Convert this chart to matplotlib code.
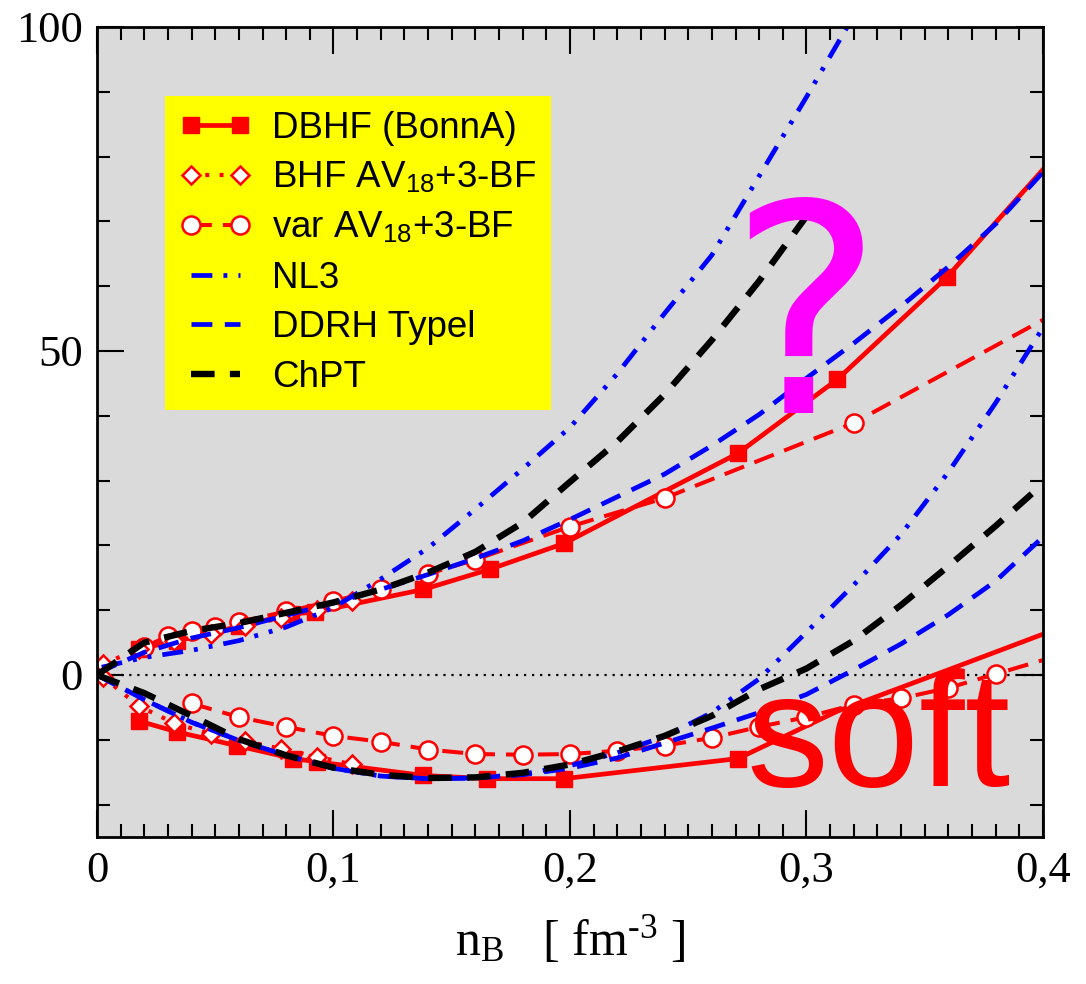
import matplotlib
matplotlib.use('Agg')
import matplotlib.pyplot as plt
from matplotlib.ticker import MultipleLocator, FixedLocator, FixedFormatter

plt.rcParams['lines.scale_dashes'] = False
plt.rcParams['font.family'] = ['Liberation Serif', 'DejaVu Serif']
plt.rcParams['mathtext.fontset'] = 'custom'
plt.rcParams['mathtext.rm'] = 'Liberation Serif'
plt.rcParams['mathtext.it'] = 'Liberation Serif:italic'

# ---------------- data (E/A in MeV vs n_B in fm^-3) ----------------
# DBHF (Bonn A): neutron matter (upper) and symmetric matter (lower)
dbhf_nm_n = [0.0177, 0.034, 0.060, 0.082, 0.092, 0.138, 0.166, 0.1975, 0.271, 0.313, 0.3594, 0.40]
dbhf_nm_e = [4.0, 5.3, 7.5, 9.4, 9.7, 13.2, 16.3, 20.3, 34.2, 45.6, 61.4, 78.0]
dbhf_nm_mark = list(range(11))
dbhf_sm_n = [0.0177, 0.034, 0.059, 0.083, 0.093, 0.138, 0.165, 0.1975, 0.271, 0.313, 0.36, 0.40]
dbhf_sm_e = [-7.1, -8.8, -10.9, -12.9, -13.4, -15.5, -16.0, -16.0, -12.9, -5.6, 0.8, 6.3]
dbhf_sm_mark = list(range(9))

# BHF AV18 + 3-BF
bhf_n = [0.0025, 0.0177, 0.0325, 0.048, 0.0626, 0.078, 0.093, 0.108]
bhf_nm_e = [1.7, 4.0, 5.2, 6.3, 7.6, 8.8, 10.0, 11.4]
bhf_sm_e = [-0.3, -4.8, -7.4, -9.1, -10.2, -11.4, -12.6, -13.8]

# variational AV18 + 3-BF
var_nm_n = [0.02, 0.03, 0.04, 0.05, 0.06, 0.08, 0.10, 0.12, 0.14, 0.16, 0.20, 0.24, 0.32, 0.40]
var_nm_e = [4.3, 6.0, 6.8, 7.4, 8.2, 9.8, 11.4, 13.2, 15.6, 17.8, 22.9, 27.3, 38.9, 54.8]
var_nm_mark = list(range(13))
var_sm_n = [0.04, 0.06, 0.08, 0.10, 0.12, 0.14, 0.16, 0.18, 0.20, 0.22,
            0.24, 0.26, 0.28, 0.30, 0.32, 0.34, 0.36, 0.38, 0.40]
var_sm_e = [-4.4, -6.5, -8.0, -9.4, -10.3, -11.5, -12.2, -12.3, -12.2, -11.7,
            -10.9, -9.7, -8.0, -6.5, -4.6, -3.6, -2.0, 0.15, 2.3]
var_sm_mark = list(range(18))

# common density grid for the continuous curves
grid = [0.0, 0.02, 0.04, 0.06, 0.08, 0.10, 0.12, 0.14, 0.16, 0.18, 0.20,
        0.22, 0.24, 0.26, 0.28, 0.30, 0.32, 0.34, 0.36, 0.38, 0.40]

# NL3
nl3_nm_n = [0.002, 0.02, 0.04, 0.06, 0.08, 0.10, 0.12, 0.14, 0.16, 0.18, 0.20,
            0.22, 0.24, 0.26, 0.28, 0.30, 0.318]
nl3_nm_e = [1.2, 2.7, 3.8, 5.3, 7.4, 10.4, 14.8, 19.6, 25.6, 31.8, 38.2,
            46.5, 55.8, 64.8, 77.0, 89.2, 100.5]
nl3_sm_e = [0.0, -3.8, -7.3, -10.1, -12.4, -14.4, -15.6, -16.0, -15.9, -15.3, -14.0,
            -12.0, -9.5, -5.8, -0.6, 6.6, 13.9, 21.7, 31.3, 42.0, 53.6]

# DDRH (Typel)
ddrh_nm_e = [0.3, 3.5, 5.7, 7.3, 9.2, 11.1, 13.2, 15.5, 18.0, 20.7, 24.0,
             27.5, 31.0, 35.4, 40.2, 45.8, 51.2, 56.9, 63.0, 69.6, 77.6]
ddrh_sm_e = [0.0, -3.8, -7.3, -10.1, -12.4, -14.4, -15.6, -16.0, -15.9, -15.4, -14.4,
             -12.8, -10.5, -8.2, -5.8, -3.0, 0.8, 4.8, 9.3, 14.5, 21.3]

# ChPT
chpt_nm_n = [0.0, 0.02, 0.04, 0.06, 0.08, 0.10, 0.12, 0.14, 0.16, 0.18, 0.20,
             0.22, 0.24, 0.26, 0.28, 0.30]
chpt_nm_e = [0.0, 5.0, 6.8, 8.0, 9.6, 11.2, 13.2, 15.8, 19.0, 23.5, 29.8,
             36.0, 43.3, 51.7, 60.8, 70.8]
chpt_sm_e = [0.0, -2.8, -6.3, -9.9, -12.4, -14.3, -15.4, -15.9, -15.8, -15.1, -13.8,
             -11.8, -9.4, -6.3, -2.2, 1.0, 5.3, 10.8, 16.8, 23.0, 29.5]

xticks = [0.0, 0.1, 0.2, 0.3, 0.4]
xticklabels = ['0', '0,1', '0,2', '0,3', '0,4']
yticks = [0, 50, 100]
yticklabels = ['0', '50', '100']

legend_labels = ['DBHF (BonnA)', 'BHF AV$_{\\mathregular{18}}$+3-BF',
                 'var AV$_{\\mathregular{18}}$+3-BF', 'NL3', 'DDRH Typel', 'ChPT']

# ---------------- figure ----------------
fig = plt.figure(figsize=(10.86, 9.84), dpi=100)
ax = fig.add_axes([0.0893, 0.1494, 0.8711, 0.8232])
ax.set_facecolor('#dadada')
ax.set_xlim(0, 0.4)
ax.set_ylim(-25, 100)

RED = '#ff0000'
BLUE = '#0000ff'

ax.plot([0, 0.4], [0, 0], color='black', lw=1.6, ls=(0, (1.6, 4.2)), zorder=1)

sq = dict(color=RED, lw=3.4, marker='s', ms=12, mfc=RED, mec=RED)
h_dbhf, = ax.plot(dbhf_nm_n, dbhf_nm_e, markevery=dbhf_nm_mark, zorder=3, **sq)
ax.plot(dbhf_sm_n, dbhf_sm_e, markevery=dbhf_sm_mark, zorder=3, **sq)

vr = dict(color=RED, lw=2.9, ls=(0, (15, 8)), marker='o', ms=13, mfc='white', mec=RED, mew=1.8)
h_var, = ax.plot(var_nm_n, var_nm_e, markevery=var_nm_mark, zorder=4, **vr)
ax.plot(var_sm_n, var_sm_e, markevery=var_sm_mark, zorder=4, **vr)

bh = dict(color=RED, lw=3.0, ls=(0, (2.8, 7.5)), marker='D', ms=9, mfc='white', mec=RED, mew=1.8)
h_bhf, = ax.plot(bhf_n, bhf_nm_e, zorder=5, **bh)
ax.plot(bhf_n, bhf_sm_e, zorder=5, **bh)

nl = dict(color=BLUE, lw=3.4, ls=(0, (15, 8, 2.8, 8, 2.8, 8)))
h_nl3, = ax.plot(nl3_nm_n, nl3_nm_e, zorder=6, **nl)
ax.plot(grid, nl3_sm_e, zorder=6, **nl)

dd = dict(color=BLUE, lw=3.4, ls=(0, (15, 9)))
h_ddrh, = ax.plot(grid, ddrh_nm_e, zorder=6, **dd)
ax.plot(grid, ddrh_sm_e, zorder=6, **dd)

ch = dict(color='black', lw=4.6, ls=(0, (17, 11)))
h_chpt, = ax.plot(chpt_nm_n, chpt_nm_e, zorder=7, **ch)
ax.plot(grid, chpt_sm_e, zorder=7, **ch)

leg = ax.legend([h_dbhf, h_bhf, h_var, h_nl3, h_ddrh, h_chpt], legend_labels,
                loc='upper left', bbox_to_anchor=(0.0719, 0.915), borderaxespad=0,
                numpoints=2, prop={'family': 'Liberation Sans', 'size': 26.5},
                handlelength=1.95, handletextpad=0.55, labelspacing=0.40,
                borderpad=0.40, fancybox=False, framealpha=1.0,
                facecolor='#ffff00', edgecolor='none')
leg.set_zorder(8)

ax.text(0.2995, 40.5, '?', color='#ff00ff', fontsize=209, family='DejaVu Sans',
        ha='center', va='baseline', zorder=10)
ax.text(0.2744, -17.2, 'soft', color=RED, fontsize=118, family='Liberation Sans',
        ha='left', va='baseline', zorder=10)

ax.xaxis.set_major_locator(FixedLocator(xticks))
ax.xaxis.set_major_formatter(FixedFormatter(xticklabels))
ax.xaxis.set_minor_locator(MultipleLocator(0.01))
ax.yaxis.set_major_locator(FixedLocator(yticks))
ax.yaxis.set_major_formatter(FixedFormatter(yticklabels))
ax.yaxis.set_minor_locator(MultipleLocator(10))
ax.tick_params(which='both', direction='in', top=True, right=True, width=1.5,
               labelsize=32, pad=10)
ax.tick_params(which='major', length=19.5)
ax.tick_params(which='minor', length=9.5)
for s in ax.spines.values():
    s.set_linewidth(2.0)
    s.set_zorder(11)

ax.set_xlabel('n$_{\\mathregular{B}}$   [ fm$^{\\mathregular{\u2010 3}}$ ]', fontsize=36, labelpad=17)

fig.savefig('out.png', dpi=100)
